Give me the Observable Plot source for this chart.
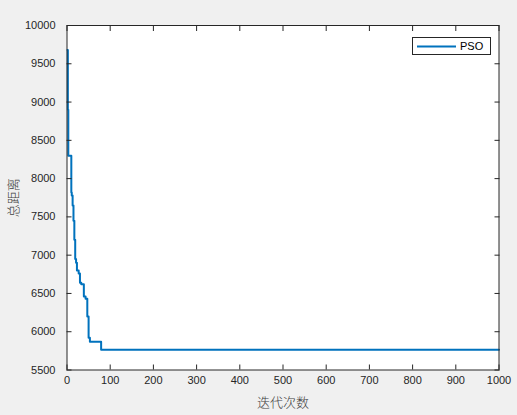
<!DOCTYPE html>
<html>
<head>
<meta charset="utf-8">
<script src="https://cdn.jsdelivr.net/npm/d3@7"></script>
<script src="https://cdn.jsdelivr.net/npm/@observablehq/plot@0.6"></script>
<style>
  html, body { margin: 0; padding: 0; background: #f0f0f0; }
  #wrap { position: relative; width: 517px; height: 415px; background: #f0f0f0; overflow: hidden; }
  #legend { position: absolute; left: 412px; top: 37px; width: 79px; height: 18px; background: #fff; border: 1px solid #262626; box-sizing: border-box; font: 11px "Liberation Sans", Arial, sans-serif; color: #000; }
  #legend svg { position: absolute; left: 0; top: 0; }
  #legend span { position: absolute; left: 47px; top: 2px; }
</style>
</head>
<body>
<div id="wrap"></div>
<script>
// Data
const iterations = [1, 2, 3, 10, 11, 13, 15, 17, 19, 21, 23, 27, 30, 33, 39, 43, 47, 50, 53, 79, 1000];
const distances = [9680, 8900, 8300, 7820, 7780, 7650, 7450, 7200, 6950, 6900, 6800, 6760, 6640, 6620, 6460, 6430, 6200, 5920, 5870, 5765, 5765];
const xTicks = [0, 100, 200, 300, 400, 500, 600, 700, 800, 900, 1000];
const yTicks = [5500, 6000, 6500, 7000, 7500, 8000, 8500, 9000, 9500, 10000];
const seriesName = "PSO";
const xLabel = "迭代次数";
const yLabel = "总距离";

const data = iterations.map((it, i) => ({it, d: distances[i]}));
const axisColor = "#262626";
const fmt = d3.format("d");

const chart = Plot.plot({
  width: 517,
  height: 415,
  marginLeft: 66.5,
  marginRight: 18.5,
  marginTop: 25,
  marginBottom: 45.5,
  style: {background: "#f0f0f0", fontFamily: "'Liberation Sans', Arial, sans-serif", fontSize: "11px", color: axisColor, overflow: "visible"},
  x: {domain: [0, 1000]},
  y: {domain: [5500, 10000]},
  marks: [
    Plot.frame({fill: "white", stroke: null}),
    Plot.line(data, {x: "it", y: "d", curve: "step-after", stroke: "#0072BD", strokeWidth: 2}),
    Plot.axisX({ticks: xTicks, tickFormat: fmt, tickSize: -5, tickPadding: 11, stroke: axisColor, fill: axisColor, fontSize: 11,
      label: xLabel, labelAnchor: "center", labelArrow: "none", labelOffset: 37}),
    Plot.axisX({anchor: "top", ticks: xTicks, tickSize: -5, tickFormat: () => "", label: null, stroke: axisColor}),
    Plot.axisY({ticks: yTicks, tickFormat: fmt, tickSize: -5, tickPadding: 16.5, stroke: axisColor, fill: axisColor, fontSize: 11,
      label: yLabel, labelAnchor: "center", labelArrow: "none", labelOffset: 58}),
    Plot.axisY({anchor: "right", ticks: yTicks, tickSize: -5, tickFormat: () => "", label: null, stroke: axisColor}),
    Plot.frame({stroke: axisColor, strokeWidth: 1})
  ]
});

// style axis labels (Chinese)
chart.querySelectorAll("[aria-label$='axis label'] text, [aria-label$='axis label']").forEach(el => {
  el.style.fontFamily = "'Noto Sans CJK SC', sans-serif";
  el.style.fontSize = "13px";
  el.style.fontWeight = "300";
  el.setAttribute("fill", "#404040");
});

const wrap = document.getElementById("wrap");
wrap.appendChild(chart);

const legend = document.createElement("div");
legend.id = "legend";
legend.innerHTML = `<svg width="79" height="18"><line x1="4" x2="43" y1="8.5" y2="8.5" stroke="#0072BD" stroke-width="2"/></svg><span>${seriesName}</span>`;
wrap.appendChild(legend);
</script>
</body>
</html>
